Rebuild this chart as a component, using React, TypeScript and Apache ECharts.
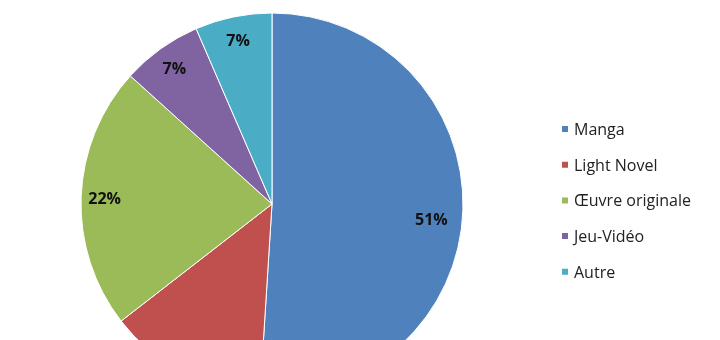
import React, { useEffect, useRef } from "react";
import * as echarts from "echarts";

const categories = ["Manga", "Light Novel", "Œuvre originale", "Jeu-Vidéo", "Autre"];
const shares = [51, 13.5, 22.2, 6.8, 6.5];
const colors = ["#4F81BD", "#C0504D", "#9BBB59", "#8064A2", "#4BACC6"];

export default function App() {
  const ref = useRef<HTMLDivElement>(null);
  useEffect(() => {
    if (!ref.current) return;
    const chart = echarts.init(ref.current, null, { renderer: "svg" });
    const data = categories.map((name, i) => ({ name, value: shares[i] }));
    const labelData = data.map((d, i) =>
      i === 1 ? { ...d, label: { show: false } } : d
    );
    chart.setOption({
      animation: false,
      color: colors,
      legend: {
        orient: "vertical",
        left: 555,
        top: 116,
        icon: "rect",
        itemWidth: 8,
        itemHeight: 8,
        itemGap: 19.7,
        textStyle: { fontFamily: "Open Sans", fontSize: 16, color: "#222" },
        data: categories,
      },
      series: [
        {
          type: "pie",
          center: [272, 204],
          radius: 191,
          startAngle: 90,
          clockwise: true,
          silent: true,
          data,
          itemStyle: { borderColor: "#fff", borderWidth: 1 },
          label: { show: false },
          labelLine: { show: false },
        },
        {
          type: "pie",
          center: [272, 204],
          radius: [138, 191],
          startAngle: 90,
          clockwise: true,
          silent: true,
          data: labelData,
          itemStyle: { color: "transparent", borderWidth: 0 },
          label: {
            show: true,
            position: "inside",
            formatter: (p: any) => Math.round(p.value) + "%",
            fontFamily: "Open Sans",
            fontWeight: "bold",
            fontSize: 16,
            color: "#111",
          },
          labelLayout: (p: any) =>
            p.dataIndex === 0 ? { dx: -8, dy: 10 } : {},
          labelLine: { show: false },
        },
      ],
    });
    return () => chart.dispose();
  }, []);
  return (
    <div
      ref={ref}
      style={{ position: "fixed", left: 0, top: 0, width: 720, height: 340 }}
    />
  );
}
